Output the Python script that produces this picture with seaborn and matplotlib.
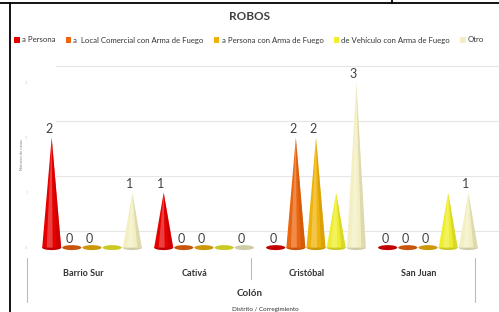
import pandas as pd
import matplotlib.pyplot as plt
import seaborn as sns
from matplotlib.patches import Polygon, Ellipse
from matplotlib.lines import Line2D
from matplotlib.transforms import ScaledTranslation


lugares = ["Barrio Sur", "Cativá", "Cristóbal", "San Juan"]
tipos = ["a Persona", "a  Local Comercial con Arma de Fuego", "a Persona con Arma de Fuego",
         "de Vehículo con Arma de Fuego", "Otro"]
a_persona = [2, 1, 0, 0]
local_comercial = [0, 0, 2, 0]
persona_arma = [0, 0, 2, 0]
vehiculo_arma = [0, 0, 1, 1]
otro = [1, 0, 3, 1]
colores = ["#e60000", "#ea650d", "#f0b20a", "#eeee2c", "#f4efc2"]
sin_etiqueta = ["de Vehículo con Arma de Fuego"]

series = [a_persona, local_comercial, persona_arma, vehiculo_arma, otro]
rows = []
for tipo, vals in zip(tipos, series):
    for lugar, v in zip(lugares, vals):
        rows.append({"lugar": lugar, "tipo": tipo, "casos": v})
df = pd.DataFrame(rows)

sns.set_theme(style="white")
plt.rcParams["font.family"] = ["Lato", "DejaVu Sans"]

fig = plt.figure(figsize=(4.99, 3.12), dpi=100)
ax = fig.add_axes([36 / 499, 60 / 312, 448 / 499, 194 / 312])

sns.barplot(data=df, x="lugar", y="casos", hue="tipo", hue_order=tipos, order=lugares,
            palette=colores, width=0.9, legend=False, ax=ax)

ax.set_ylim(-0.08, 3.45)
ax.set_xlim(-0.5, 3.5)


def shade(c, f):
    r, g, b = plt.matplotlib.colors.to_rgb(c)
    return (r * f, g * f, b * f)


# turn the bars into cones
for i, cont in enumerate(ax.containers):
    col = colores[i]
    for bar in cont:
        x0, w, h = bar.get_x(), bar.get_width(), bar.get_height()
        bar.set_visible(False)
        xc = x0 + w / 2
        ax.add_patch(Ellipse((xc, 0), w * 0.95, 0.09, facecolor=shade(col, 0.85),
                             edgecolor="none", clip_on=False, zorder=2))
        if h > 0:
            ax.add_patch(Polygon([(x0 + w * 0.03, 0), (xc, h), (x0 + w * 0.97, 0)],
                                 closed=True, facecolor=col, edgecolor="none", zorder=3))
            ax.add_patch(Polygon([(x0 + w * 0.25, 0), (xc, h), (x0 + w * 0.55, 0)],
                                 closed=True, facecolor="white", alpha=0.25,
                                 edgecolor="none", zorder=4))
            ax.add_patch(Polygon([(x0 + w * 0.75, 0), (xc, h), (x0 + w * 0.97, 0)],
                                 closed=True, facecolor=shade(col, 0.85), alpha=0.6,
                                 edgecolor="none", zorder=4))
        if tipos[i] not in sin_etiqueta:
            ax.annotate(f"{h:.0f}", (xc, h), xytext=(-2, 2), textcoords="offset points",
                        ha="center", va="bottom", fontsize=9, color="#404040", zorder=5)

# back-wall gridlines
ax.set_yticks([0, 1, 2, 3])
ax.yaxis.grid(True, color="#e6e6e6", linewidth=0.8)
for gl in ax.get_ygridlines():
    gl.set_transform(gl.get_transform() + ScaledTranslation(0.2, 0.17, fig.dpi_scale_trans))
    gl.set_clip_on(False)
ax.tick_params(axis="y", labelsize=3, colors="#d0d0d0", length=0, pad=6)
ax.set_ylabel("Número de casos", fontsize=3, color="#808080", labelpad=1)

# category labels sit a little left of the cones (3D perspective)
shift = ScaledTranslation(-0.09, 0, fig.dpi_scale_trans)
ax.tick_params(axis="x", labelsize=6.5, colors="#333333", length=0, pad=12)
for lab in ax.get_xticklabels():
    lab.set_fontweight("bold")
    lab.set_transform(lab.get_transform() + shift)
ax.set_xlabel("")
sns.despine(ax=ax, left=True, bottom=True)

# multi-level category separators
for xs, y0 in [(-0.5, -0.26), (1.5, -0.14), (3.5, -0.26)]:
    ax.plot([xs, xs], [-0.03, y0], transform=ax.get_xaxis_transform() + shift,
            color="#bbbbbb", linewidth=0.8, clip_on=False)
fig.text(250 / 499, 19 / 312, "Colón", ha="center", va="center", fontsize=7,
         fontweight="bold", color="#333333")
fig.text(265 / 499, 3 / 312, "Distrito / Corregimiento", ha="center", va="center",
         fontsize=4.5, color="#333333")

fig.text(250 / 499, 295 / 312, "ROBOS", ha="center", va="center", fontsize=8.5,
         fontweight="bold", color="#404040")

handles = [plt.Rectangle((0, 0), 1, 1, facecolor=c, edgecolor="none") for c in colores]
fig.legend(handles, tipos, loc="center left", bbox_to_anchor=(11 / 499, 272 / 312),
           ncol=5, fontsize=5.6, frameon=False, handlelength=0.7, handleheight=0.9,
           handletextpad=0.3, columnspacing=1.3, labelcolor="#333333", borderaxespad=0)

# frame of the surrounding document
lw = 1.3
fig.add_artist(Line2D([0, 1], [309 / 312, 309 / 312], color="black", linewidth=lw))
fig.add_artist(Line2D([10 / 499, 10 / 499], [0, 309 / 312], color="black", linewidth=lw))
fig.add_artist(Line2D([392 / 499, 392 / 499], [309 / 312, 1], color="black", linewidth=lw))

fig.savefig("out.png", dpi=100)
plt.close(fig)
